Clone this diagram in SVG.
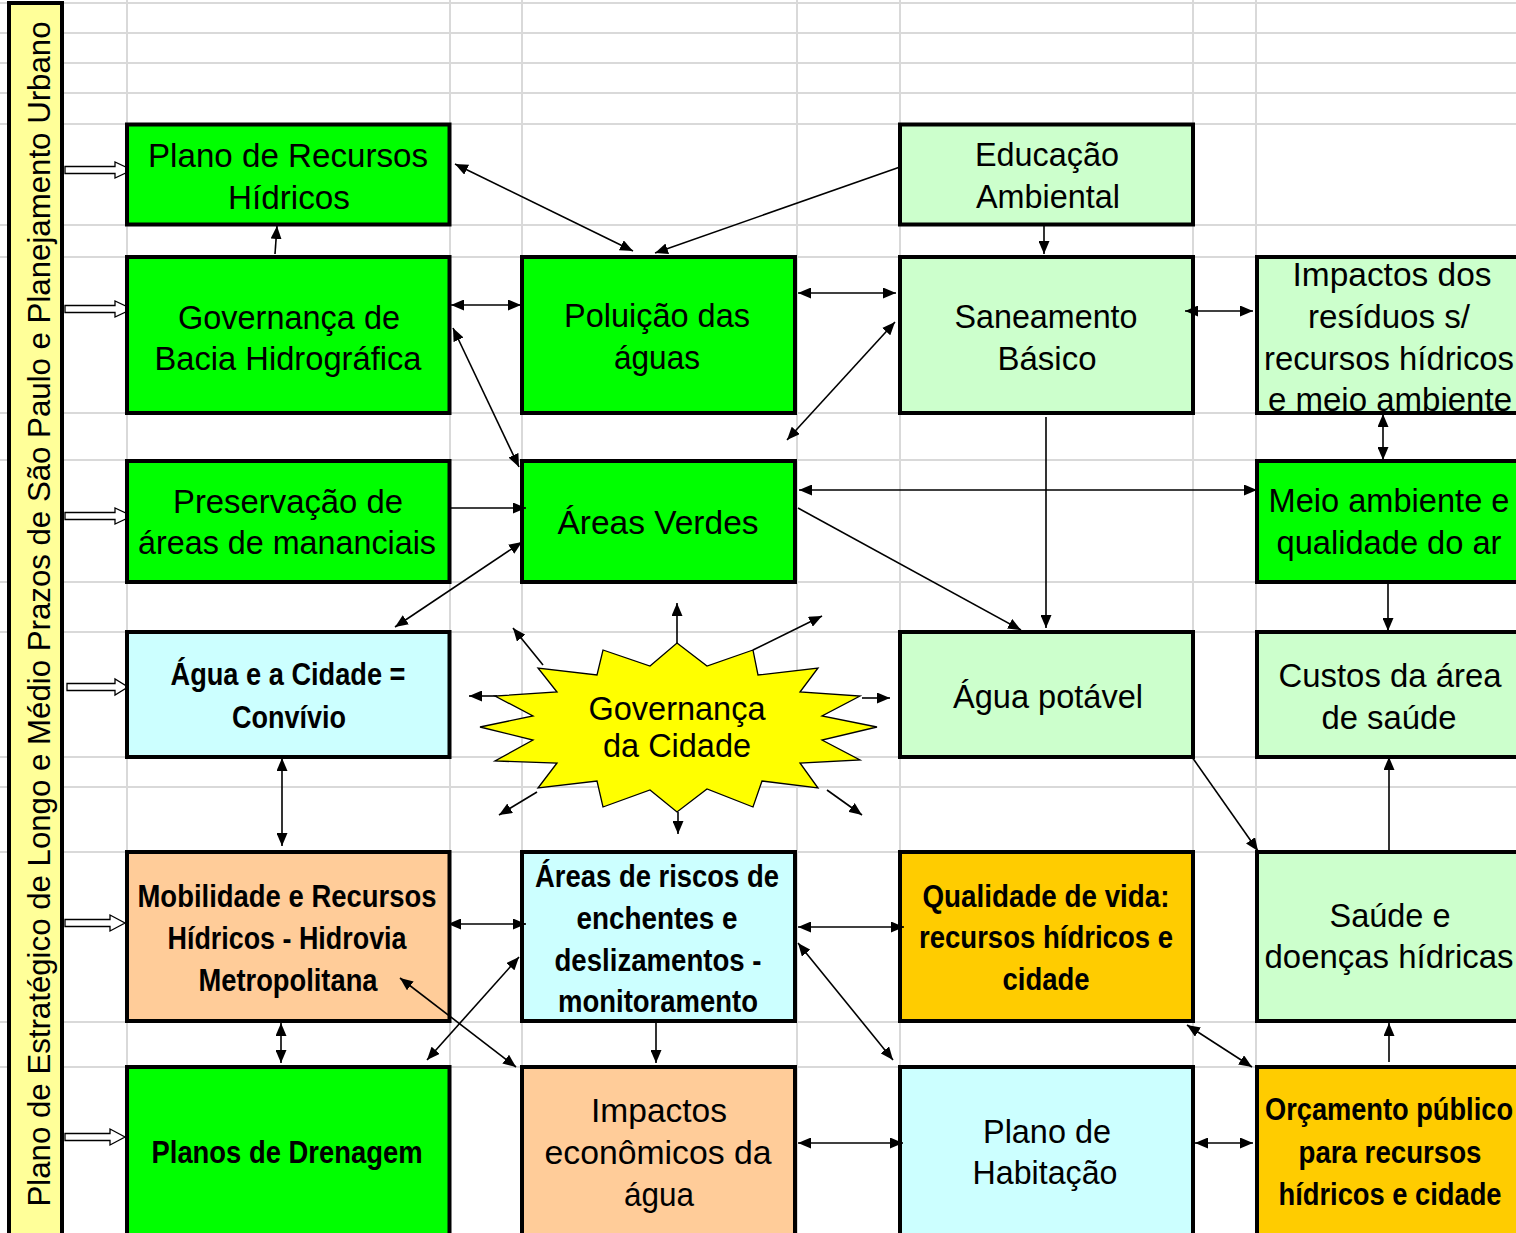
<svg xmlns="http://www.w3.org/2000/svg" width="1516" height="1233" viewBox="0 0 1516 1233">
<defs>
<marker id="ah" viewBox="0 0 13 11" refX="13" refY="5.5" markerWidth="13" markerHeight="11" markerUnits="userSpaceOnUse" orient="auto-start-reverse"><path d="M0,0 L13,5.5 L0,11 z" fill="#000"/></marker>
<style>
.grid line{stroke:#D9D9D9;stroke-width:2}
.box{stroke:#000;stroke-width:4}
.g{fill:#00FF00}.lg{fill:#CCFFCC}.cy{fill:#CCFFFF}.pe{fill:#FFCC99}.go{fill:#FFCC00}
.t{font-family:"Liberation Sans",Arial,sans-serif;font-size:33px;fill:#000;text-anchor:middle}
.b{font-family:"Liberation Sans Narrow","Liberation Sans",Arial,sans-serif;font-weight:bold;font-size:32px;fill:#000;text-anchor:middle}
.c line{stroke:#000;stroke-width:1.6}
.c .e{marker-end:url(#ah)}
.c .d{marker-start:url(#ah);marker-end:url(#ah)}
.blk{fill:#fff;stroke:#000;stroke-width:1.3}
</style>
</defs>
<rect width="1516" height="1233" fill="#fff"/>
<g class="grid">
<line x1="0" y1="3" x2="1516" y2="3"/><line x1="0" y1="33" x2="1516" y2="33"/><line x1="0" y1="63" x2="1516" y2="63"/><line x1="0" y1="93" x2="1516" y2="93"/><line x1="0" y1="124" x2="1516" y2="124"/><line x1="0" y1="225" x2="1516" y2="225"/><line x1="0" y1="257" x2="1516" y2="257"/><line x1="0" y1="413" x2="1516" y2="413"/><line x1="0" y1="460" x2="1516" y2="460"/><line x1="0" y1="582" x2="1516" y2="582"/><line x1="0" y1="632" x2="1516" y2="632"/><line x1="0" y1="757" x2="1516" y2="757"/><line x1="0" y1="787" x2="1516" y2="787"/><line x1="0" y1="852" x2="1516" y2="852"/><line x1="0" y1="1022" x2="1516" y2="1022"/><line x1="0" y1="1067" x2="1516" y2="1067"/>
<line x1="127" y1="0" x2="127" y2="1233"/><line x1="450" y1="0" x2="450" y2="1233"/><line x1="522" y1="0" x2="522" y2="1233"/><line x1="797" y1="0" x2="797" y2="1233"/><line x1="900" y1="0" x2="900" y2="1233"/><line x1="1193" y1="0" x2="1193" y2="1233"/><line x1="1256" y1="0" x2="1256" y2="1233"/>
</g>
<g id="banner">
<rect x="9" y="3" width="53" height="1240" fill="#FFFF99" stroke="#000" stroke-width="4"/>
<text class="t" transform="translate(50,614) rotate(-90)" x="0" y="0" style="font-size:31px" textLength="1185" lengthAdjust="spacingAndGlyphs">Plano de Estratégico de Longo e Médio Prazos de São Paulo e Planejamento Urbano</text>
</g>
<g id="banner-arrows">
<polygon class="blk" points="65,166.5 115,166.5 115,162 132,170 115,178 115,173.5 65,173.5"/>
<polygon class="blk" points="65,305.5 115,305.5 115,301 132,309 115,317 115,312.5 65,312.5"/>
<polygon class="blk" points="65,512.5 115,512.5 115,508 132,516 115,524 115,519.5 65,519.5"/>
<polygon class="blk" points="67,683.5 115,683.5 115,679 128,687 115,695 115,690.5 67,690.5"/>
<polygon class="blk" points="65,919.5 110,919.5 110,915 125,923 110,931 110,926.5 65,926.5"/>
<polygon class="blk" points="65,1133.5 110,1133.5 110,1129 125,1137 110,1145 110,1140.5 65,1140.5"/>
</g>
<g id="n1"><rect class="box g" x="127" y="124.5" width="322.5" height="100"/><text class="t" x="288" y="167" textLength="280" lengthAdjust="spacingAndGlyphs">Plano de Recursos</text><text class="t" x="289" y="209" textLength="122" lengthAdjust="spacingAndGlyphs">Hídricos</text></g>
<g id="n2"><rect class="box g" x="127" y="257" width="322.5" height="156"/><text class="t" x="289" y="329" textLength="222" lengthAdjust="spacingAndGlyphs">Governança de</text><text class="t" x="288" y="370" textLength="267" lengthAdjust="spacingAndGlyphs">Bacia Hidrográfica</text></g>
<g id="n3"><rect class="box g" x="522" y="257" width="273" height="156"/><text class="t" x="657" y="327" textLength="186" lengthAdjust="spacingAndGlyphs">Poluição das</text><text class="t" x="657" y="369" textLength="86" lengthAdjust="spacingAndGlyphs">águas</text></g>
<g id="n4"><rect class="box lg" x="900" y="124.5" width="293" height="100"/><text class="t" x="1047" y="166" textLength="144" lengthAdjust="spacingAndGlyphs">Educação</text><text class="t" x="1048" y="208" textLength="144" lengthAdjust="spacingAndGlyphs">Ambiental</text></g>
<g id="n5"><rect class="box lg" x="900" y="257" width="293" height="156"/><text class="t" x="1046" y="328" textLength="183" lengthAdjust="spacingAndGlyphs">Saneamento</text><text class="t" x="1047" y="370" textLength="99" lengthAdjust="spacingAndGlyphs">Básico</text></g>
<g id="n6"><rect class="lg" x="1257" y="257" width="280" height="156"/><text class="t" x="1392" y="286" textLength="199" lengthAdjust="spacingAndGlyphs">Impactos dos</text><text class="t" x="1389" y="328" textLength="162" lengthAdjust="spacingAndGlyphs">resíduos s/</text><text class="t" x="1389" y="370" textLength="250" lengthAdjust="spacingAndGlyphs">recursos hídricos</text><text class="t" x="1390" y="411" textLength="244" lengthAdjust="spacingAndGlyphs">e meio ambiente</text><rect class="box" fill="none" x="1257" y="257" width="280" height="156"/></g>
<g id="n7"><rect class="box g" x="127" y="461" width="322.5" height="121"/><text class="t" x="288" y="513" textLength="230" lengthAdjust="spacingAndGlyphs">Preservação de</text><text class="t" x="287" y="554" textLength="298" lengthAdjust="spacingAndGlyphs">áreas de mananciais</text></g>
<g id="n8"><rect class="box g" x="522" y="461" width="273" height="121"/><text class="t" x="658" y="534" textLength="201" lengthAdjust="spacingAndGlyphs">Áreas Verdes</text></g>
<g id="n9"><rect class="box g" x="1257" y="461" width="280" height="121"/><text class="t" x="1389" y="512" textLength="241" lengthAdjust="spacingAndGlyphs">Meio ambiente e</text><text class="t" x="1389" y="554" textLength="225" lengthAdjust="spacingAndGlyphs">qualidade do ar</text></g>
<g id="n10"><rect class="box cy" x="127" y="632" width="322.5" height="125"/><text class="b" x="288" y="685" textLength="235" lengthAdjust="spacingAndGlyphs">Água e a Cidade =</text><text class="b" x="289" y="728" textLength="114" lengthAdjust="spacingAndGlyphs">Convívio</text></g>
<g id="n11"><rect class="box lg" x="900" y="632" width="293" height="125"/><text class="t" x="1048" y="708" textLength="190" lengthAdjust="spacingAndGlyphs">Água potável</text></g>
<g id="n12"><rect class="box lg" x="1257" y="632" width="280" height="125"/><text class="t" x="1390" y="687" textLength="223" lengthAdjust="spacingAndGlyphs">Custos da área</text><text class="t" x="1389" y="729" textLength="135" lengthAdjust="spacingAndGlyphs">de saúde</text></g>
<g id="n13"><polygon points="677,643 707,666 753,650 758,675 818,668 800,692 860,696 822,716 877,727 822,740 860,760 800,763 818,788 762,781 753,807 707,789 677,812 650,790 603,807 597,781 538,788 557,763 495,761 533,740 480,727 533,716 495,696 557,692 538,668 597,675 603,650 650,666" fill="#FFFF00" stroke="#000" stroke-width="1.3"/><text class="t" x="677" y="720" textLength="177" lengthAdjust="spacingAndGlyphs">Governança</text><text class="t" x="677" y="757" textLength="148" lengthAdjust="spacingAndGlyphs">da Cidade</text></g>
<g id="n14"><rect class="box pe" x="127" y="852" width="322.5" height="169"/><text class="b" x="287" y="907" textLength="299" lengthAdjust="spacingAndGlyphs">Mobilidade e Recursos</text><text class="b" x="287" y="949" textLength="239" lengthAdjust="spacingAndGlyphs">Hídricos - Hidrovia</text><text class="b" x="288" y="991" textLength="179" lengthAdjust="spacingAndGlyphs">Metropolitana</text></g>
<g id="n15"><rect class="box cy" x="522" y="852" width="273" height="169"/><text class="b" x="657" y="887" textLength="244" lengthAdjust="spacingAndGlyphs">Áreas de riscos de</text><text class="b" x="657" y="929" textLength="161" lengthAdjust="spacingAndGlyphs">enchentes e</text><text class="b" x="658" y="971" textLength="207" lengthAdjust="spacingAndGlyphs">deslizamentos -</text><text class="b" x="658" y="1012" textLength="200" lengthAdjust="spacingAndGlyphs">monitoramento</text></g>
<g id="n16"><rect class="box go" x="900" y="852" width="293" height="169"/><text class="b" x="1046" y="907" textLength="247" lengthAdjust="spacingAndGlyphs">Qualidade de vida:</text><text class="b" x="1046" y="948" textLength="254" lengthAdjust="spacingAndGlyphs">recursos hídricos e</text><text class="b" x="1046" y="990" textLength="87" lengthAdjust="spacingAndGlyphs">cidade</text></g>
<g id="n17"><rect class="box lg" x="1257" y="852" width="280" height="169"/><text class="t" x="1390" y="927" textLength="121" lengthAdjust="spacingAndGlyphs">Saúde e</text><text class="t" x="1389" y="968" textLength="249" lengthAdjust="spacingAndGlyphs">doenças hídricas</text></g>
<g id="n18"><rect class="box g" x="127" y="1067" width="322.5" height="180"/><text class="b" x="287" y="1163" textLength="271" lengthAdjust="spacingAndGlyphs">Planos de Drenagem</text></g>
<g id="n19"><rect class="box pe" x="522" y="1067" width="273" height="180"/><text class="t" x="659" y="1122" textLength="136" lengthAdjust="spacingAndGlyphs">Impactos</text><text class="t" x="658" y="1164" textLength="227" lengthAdjust="spacingAndGlyphs">econômicos da</text><text class="t" x="659" y="1206" textLength="70" lengthAdjust="spacingAndGlyphs">água</text></g>
<g id="n20"><rect class="box cy" x="900" y="1067" width="293" height="180"/><text class="t" x="1047" y="1143" textLength="128" lengthAdjust="spacingAndGlyphs">Plano de</text><text class="t" x="1045" y="1184" textLength="145" lengthAdjust="spacingAndGlyphs">Habitação</text></g>
<g id="n21"><rect class="box go" x="1257" y="1067" width="280" height="180"/><text class="b" x="1389" y="1120" textLength="248" lengthAdjust="spacingAndGlyphs">Orçamento público</text><text class="b" x="1390" y="1163" textLength="183" lengthAdjust="spacingAndGlyphs">para recursos</text><text class="b" x="1390" y="1205" textLength="223" lengthAdjust="spacingAndGlyphs">hídricos e cidade</text></g>
<g id="connectors" class="c">
<line class="d" x1="455" y1="164" x2="633" y2="251"/>
<line class="e" x1="900" y1="167" x2="655" y2="253"/>
<line class="e" x1="275" y1="254" x2="277" y2="226"/>
<line class="d" x1="451" y1="305" x2="521" y2="305"/>
<line class="d" x1="798" y1="293" x2="896" y2="293"/>
<line class="e" x1="1044" y1="226" x2="1044" y2="254"/>
<line class="d" x1="1185" y1="311" x2="1253" y2="311"/>
<line class="d" x1="453" y1="328" x2="519" y2="467"/>
<line class="d" x1="895" y1="322" x2="787" y2="440"/>
<line class="e" x1="1046" y1="417" x2="1046" y2="628"/>
<line class="d" x1="1383" y1="414" x2="1383" y2="460"/>
<line class="d" x1="799" y1="490" x2="1257" y2="490"/>
<line class="e" x1="798" y1="508" x2="1021" y2="630"/>
<line class="e" x1="450" y1="508" x2="526" y2="508"/>
<line class="d" x1="522" y1="542" x2="395" y2="627"/>
<line class="e" x1="1388" y1="582" x2="1388" y2="631"/>
<line class="e" x1="677" y1="643" x2="677" y2="603"/>
<line class="e" x1="753" y1="650" x2="822" y2="616"/>
<line class="e" x1="862" y1="698" x2="890" y2="698"/>
<line class="e" x1="827" y1="790" x2="862" y2="815"/>
<line class="e" x1="678" y1="812" x2="678" y2="834"/>
<line class="e" x1="537" y1="792" x2="499" y2="815"/>
<line class="e" x1="497" y1="696" x2="469" y2="696"/>
<line class="e" x1="543" y1="665" x2="513" y2="628"/>
<line class="d" x1="282" y1="758" x2="282" y2="846"/>
<line class="e" x1="1192" y1="757" x2="1258" y2="851"/>
<line class="e" x1="1389" y1="852" x2="1389" y2="757"/>
<line class="d" x1="448" y1="924" x2="526" y2="924"/>
<line class="d" x1="798" y1="927" x2="904" y2="927"/>
<line class="d" x1="400" y1="978" x2="516" y2="1067"/>
<line class="d" x1="519" y1="957" x2="427" y2="1060"/>
<line class="d" x1="798" y1="943" x2="893" y2="1060"/>
<line class="d" x1="281" y1="1023" x2="281" y2="1063"/>
<line class="e" x1="656" y1="1022" x2="656" y2="1063"/>
<line class="d" x1="1187" y1="1025" x2="1252" y2="1067"/>
<line class="d" x1="798" y1="1143" x2="903" y2="1143"/>
<line class="d" x1="1195" y1="1143" x2="1253" y2="1143"/>
<line class="e" x1="1389" y1="1062" x2="1389" y2="1023"/>
</g>
</svg>
